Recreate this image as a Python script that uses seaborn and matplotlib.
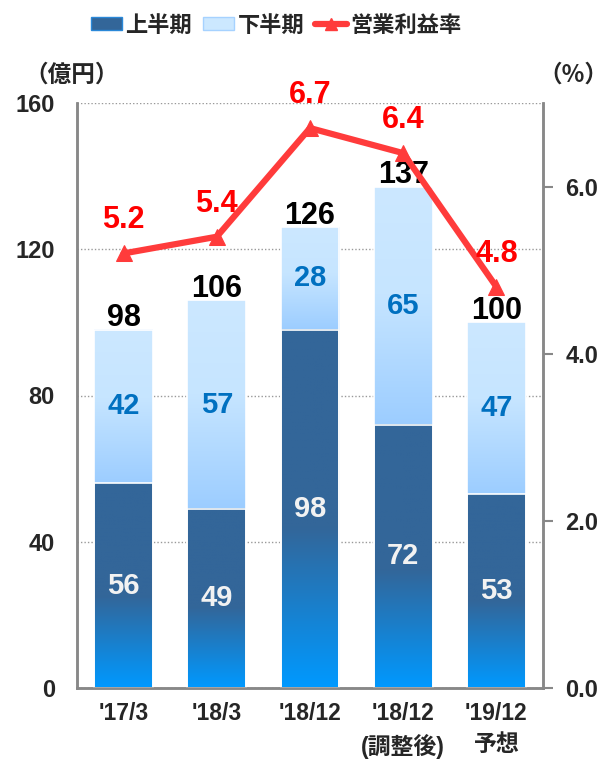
import numpy as np
import pandas as pd
import matplotlib
matplotlib.use("Agg")
import matplotlib.pyplot as plt
import seaborn as sns
from matplotlib.colors import LinearSegmentedColormap
from matplotlib.patches import Patch
from matplotlib.lines import Line2D

categories = ["'17/3", "'18/3", "'18/12", "'18/12\n(調整後)", "'19/12\n予想"]
first_half = [56, 49, 98, 72, 53]
second_half = [42, 57, 28, 65, 47]
totals = [98, 106, 126, 137, 100]
margin = [5.2, 5.4, 6.7, 6.4, 4.8]
left_ticks = [0, 40, 80, 120, 160]
right_ticks = [0.0, 2.0, 4.0, 6.0]

sns.set_theme(style="white")
plt.rcParams['font.family'] = ['Liberation Sans', 'Noto Sans CJK JP']
plt.rcParams['font.weight'] = 'bold'

df = pd.DataFrame({"cat": categories, "first": first_half, "second": second_half,
                   "total": totals, "margin": margin})

fig = plt.figure(figsize=(6.11, 7.6), dpi=100)
ax = fig.add_axes([77/611, 72/760, 466/611, 585/760])

W = 0.63
sns.barplot(data=df, x="cat", y="total", ax=ax, color="#CCE8FF", width=W,
            edgecolor="white", linewidth=1.2, saturation=1)
sns.barplot(data=df, x="cat", y="first", ax=ax, color="#336699", width=W,
            edgecolor="white", linewidth=1.2, saturation=1)

dark_cmap = LinearSegmentedColormap.from_list(
    "dk", [(0.0, "#336699"), (0.55, "#336699"), (1.0, "#0099FF")])
light_cmap = LinearSegmentedColormap.from_list(
    "lt", [(0.0, "#CCE8FF"), (0.45, "#C6E5FF"), (1.0, "#9CCDFF")])
grad = np.linspace(0, 1, 256).reshape(-1, 1)

n = len(categories)
patches = list(ax.patches)
upper_patches = patches[:n]
lower_patches = patches[n:2 * n]

for i, p in enumerate(upper_patches):
    x0 = p.get_x(); w = p.get_width()
    ax.imshow(grad, cmap=light_cmap, aspect="auto",
              extent=[x0, x0 + w, first_half[i], totals[i]], origin="upper", zorder=2)
    p.set_facecolor("none"); p.set_zorder(3)
for i, p in enumerate(lower_patches):
    x0 = p.get_x(); w = p.get_width()
    ax.imshow(grad, cmap=dark_cmap, aspect="auto",
              extent=[x0, x0 + w, 0, first_half[i]], origin="upper", zorder=2)
    p.set_facecolor("none"); p.set_zorder(3)

ax.set_xlim(-0.5, n - 0.5)
ax.set_ylim(0, 160)
ax.set_yticks(left_ticks)
ax.set_yticklabels([str(t) for t in left_ticks])
ax.set_xlabel(""); ax.set_ylabel("")
ax.yaxis.grid(True, linestyle=(0, (1, 1.5)), color="#999999", linewidth=1.0)
ax.set_axisbelow(True)
for s in ["left", "bottom", "right"]:
    ax.spines[s].set_color("#888888")
    ax.spines[s].set_linewidth(1.8)
ax.spines["top"].set_visible(False)
ax.tick_params(axis="y", length=0, pad=16, labelsize=17)
ax.tick_params(axis="x", length=0, pad=10, labelsize=16.5)
for lbl in ax.get_xticklabels():
    lbl.set_linespacing(1.45)
    lbl.set_fontweight("bold")
    lbl.set_verticalalignment("top")
for lbl in ax.get_yticklabels():
    lbl.set_fontweight("bold")

# labels in bars
for i in range(n):
    ax.text(i, first_half[i] / 2, str(first_half[i]), ha="center", va="center",
            color="#F2F2F2", fontsize=21, fontweight="bold", zorder=5)
    ax.text(i, first_half[i] + second_half[i] / 2, str(second_half[i]), ha="center",
            va="center", color="#0070C0", fontsize=21, fontweight="bold", zorder=5)
    ax.text(i, totals[i] + 1.0, str(totals[i]), ha="center", va="baseline",
            color="black", fontsize=22, fontweight="bold", zorder=5)

ax2 = ax.twinx()
sns.lineplot(x=list(range(n)), y=margin, ax=ax2, color="#FF3B3B", linewidth=4.5,
             marker="^", markersize=12, markeredgecolor="#FF3B3B", zorder=6)
ax2.set_ylim(0, 7)
ax2.set_yticks(right_ticks)
ax2.set_yticklabels([f"{t:.1f}" for t in right_ticks])
ax2.tick_params(axis="y", right=True, left=False, length=7, width=1.5, color="#888888",
                pad=9, labelsize=17, direction="out")
for lbl in ax2.get_yticklabels():
    lbl.set_fontweight("bold")
for s in ["left", "bottom", "right"]:
    ax2.spines[s].set_color("#888888")
    ax2.spines[s].set_linewidth(1.8)
ax2.spines["top"].set_visible(False)
ax2.grid(False)
for i in range(n):
    ax2.text(i, margin[i] + 0.3, f"{margin[i]:.1f}", ha="center", va="baseline",
             color="#FF0000", fontsize=22, fontweight="bold", zorder=7)

fig.text(72/611, 1 - 75/760, "（億円）", ha="center", va="center", fontsize=17,
         fontweight="bold", family=['Noto Sans CJK JP'])
fig.text(573/611, 1 - 75/760, "（%）", ha="center", va="center", fontsize=17,
         fontweight="bold", family=['Noto Sans CJK JP', 'Liberation Sans'])

handles = [Patch(facecolor="#336699", edgecolor="#2a88d8"),
           Patch(facecolor="#CCE8FF", edgecolor="#A6D2FF"),
           Line2D([0], [0], color="#FF3B3B", linewidth=4.5, marker="^", markersize=9)]
fig.legend(handles, ["上半期", "下半期", "営業利益率"], loc="center",
           bbox_to_anchor=(276/611, 1 - 25/760), ncol=3, frameon=False,
           prop={"family": ["Noto Sans CJK JP"], "weight": "bold", "size": 16},
           handlelength=1.4, handleheight=0.5, handletextpad=0.15, columnspacing=0.5)

fig.savefig("out.png", dpi=100)
